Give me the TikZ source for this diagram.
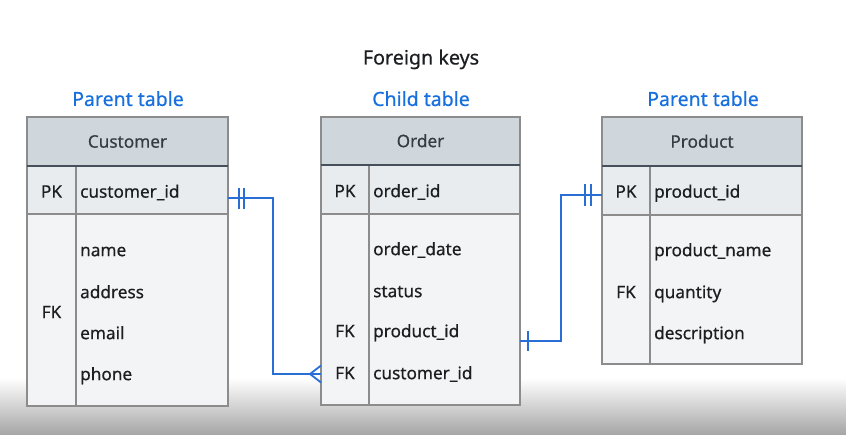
\documentclass[tikz,border=0pt]{standalone}
\usepackage{fontspec}
\setmainfont{Noto Sans}
\newfontfamily\medfont{Noto Sans}[FakeBold=0.5]
\usetikzlibrary{calc}
\definecolor{lblue}{RGB}{24,112,222}
\definecolor{cblue}{RGB}{40,110,212}
\definecolor{hfill}{RGB}{207,215,221}
\definecolor{pkfill}{RGB}{233,236,239}
\definecolor{bfill}{RGB}{243,244,246}
\definecolor{bord}{RGB}{140,140,140}
\definecolor{hline}{RGB}{70,80,90}
\definecolor{htext}{RGB}{52,60,68}
\definecolor{ttext}{RGB}{28,30,33}
\definecolor{shadegray}{RGB}{165,165,165}
\tikzset{
  cell/.style={draw=bord, line width=1.2pt, inner sep=0pt, outer sep=0pt},
  hcell/.style={cell, fill=hfill, text=htext, font=\medfont\fontsize{17.2}{19}\selectfont, text height=12.3pt, text depth=0pt},
  pkcell/.style={cell, fill=pkfill},
  bcell/.style={cell, fill=bfill},
  txt/.style={inner sep=0pt, text=ttext, font=\medfont\fontsize{17.2}{19}\selectfont, text height=12.3pt, text depth=0pt},
  ftxt/.style={txt, anchor=west},
  lbl/.style={inner sep=0pt, text=lblue, font=\medfont\fontsize{19.5}{22}\selectfont, text height=13.9pt, text depth=0pt},
  conn/.style={draw=cblue, line width=1.8pt},
  hsep/.style={draw=hline, line width=1.4pt},
}
\begin{document}
\begin{tikzpicture}[x=1pt,y=-1pt]
\useasboundingbox (0,0) rectangle (846,435);
\fill[white] (0,0) rectangle (846,435);
\shade[top color=white, bottom color=shadegray] (0,378) rectangle (846,435);

\node[inner sep=0pt, text=ttext, font=\medfont\fontsize{19.7}{22}\selectfont, text height=14pt, text depth=0pt] (title) at (421,57.5) {Foreign keys};
\node[lbl] (lbl1) at (128,99) {Parent table};
\node[lbl] (lbl2) at (421,99) {Child table};
\node[lbl] (lbl3) at (703,99) {Parent table};

% Customer
\node[hcell, minimum width=201pt, minimum height=49pt] (custh) at (127.5,141.5) {Customer};
\node[pkcell, minimum width=49pt, minimum height=48pt] (custpkk) at (51.5,190) {};
\node[pkcell, minimum width=152pt, minimum height=48pt] (custpkf) at (152,190) {};
\node[bcell, minimum width=49pt, minimum height=192pt] (custbk) at (51.5,310) {};
\node[bcell, minimum width=152pt, minimum height=192pt] (custbf) at (152,310) {};
\draw[hsep] (custh.south west) -- (custh.south east);
\node[txt] (custpk) at (51.5,191.5) {PK};
\node[ftxt] (custid) at (80,191.5) {customer\_id};
\node[ftxt] (custname) at (80,250) {name};
\node[ftxt] (custaddr) at (80,292) {address};
\node[ftxt] (custmail) at (80,333) {email};
\node[ftxt] (custphone) at (80,374) {phone};
\node[txt] (custfk) at (51.5,312) {FK};

% Order
\node[hcell, minimum width=199pt, minimum height=48pt] (ordh) at (420.5,141) {Order};
\node[pkcell, minimum width=48pt, minimum height=49pt] (ordpkk) at (345,189.5) {};
\node[pkcell, minimum width=151pt, minimum height=49pt] (ordpkf) at (444.5,189.5) {};
\node[bcell, minimum width=48pt, minimum height=191pt] (ordbk) at (345,309.5) {};
\node[bcell, minimum width=151pt, minimum height=191pt] (ordbf) at (444.5,309.5) {};
\draw[hsep] (ordh.south west) -- (ordh.south east);
\node[txt] (ordpk) at (345,191) {PK};
\node[ftxt] (ordid) at (373,191) {order\_id};
\node[ftxt] (orddate) at (373,249) {order\_date};
\node[ftxt] (ordstat) at (373,291) {status};
\node[ftxt] (ordprod) at (373,331) {product\_id};
\node[ftxt] (ordcust) at (373,373) {customer\_id};
\node[txt] (ordfk1) at (345,331) {FK};
\node[txt] (ordfk2) at (345,373) {FK};

% Product
\node[hcell, minimum width=200pt, minimum height=49pt] (prodh) at (702,141.5) {Product};
\node[pkcell, minimum width=48pt, minimum height=49pt] (prodpkk) at (626,190.5) {};
\node[pkcell, minimum width=152pt, minimum height=49pt] (prodpkf) at (726,190.5) {};
\node[bcell, minimum width=48pt, minimum height=149pt] (prodbk) at (626,289.5) {};
\node[bcell, minimum width=152pt, minimum height=149pt] (prodbf) at (726,289.5) {};
\draw[hsep] (prodh.south west) -- (prodh.south east);
\node[txt] (prodpk) at (626,191.5) {PK};
\node[ftxt] (prodid) at (654,191.5) {product\_id};
\node[ftxt] (prodname) at (654,250) {product\_name};
\node[ftxt] (prodqty) at (654,292) {quantity};
\node[ftxt] (proddesc) at (654,333) {description};
\node[txt] (prodfk) at (626,292) {FK};

% Connector customer -> order
\coordinate (a1) at ($(custpkf.east)+(0,8)$);
\coordinate (a2) at ($(ordbk.west)+(0,64.5)$);
\draw[conn] (a1) -- ($(a1)+(45,0)$) |- (a2);
\draw[conn] ($(a1)+(11,-10)$) -- ($(a1)+(11,11)$);
\draw[conn] ($(a1)+(16,-10)$) -- ($(a1)+(16,11)$);
\draw[conn] ($(a2)+(0,-8.5)$) -- ($(a2)+(-11,0)$) -- ($(a2)+(0,8.5)$);

% Connector order -> product
\coordinate (b1) at ($(ordbf.east)+(0,31.5)$);
\coordinate (b2) at ($(prodpkk.west)+(0,4.5)$);
\draw[conn] (b1) -- ($(b1)+(41,0)$) |- (b2);
\draw[conn] ($(b1)+(8,-10)$) -- ($(b1)+(8,10)$);
\draw[conn] ($(b2)+(-17,-11)$) -- ($(b2)+(-17,11)$);
\draw[conn] ($(b2)+(-11,-11)$) -- ($(b2)+(-11,11)$);
\end{tikzpicture}
\end{document}
